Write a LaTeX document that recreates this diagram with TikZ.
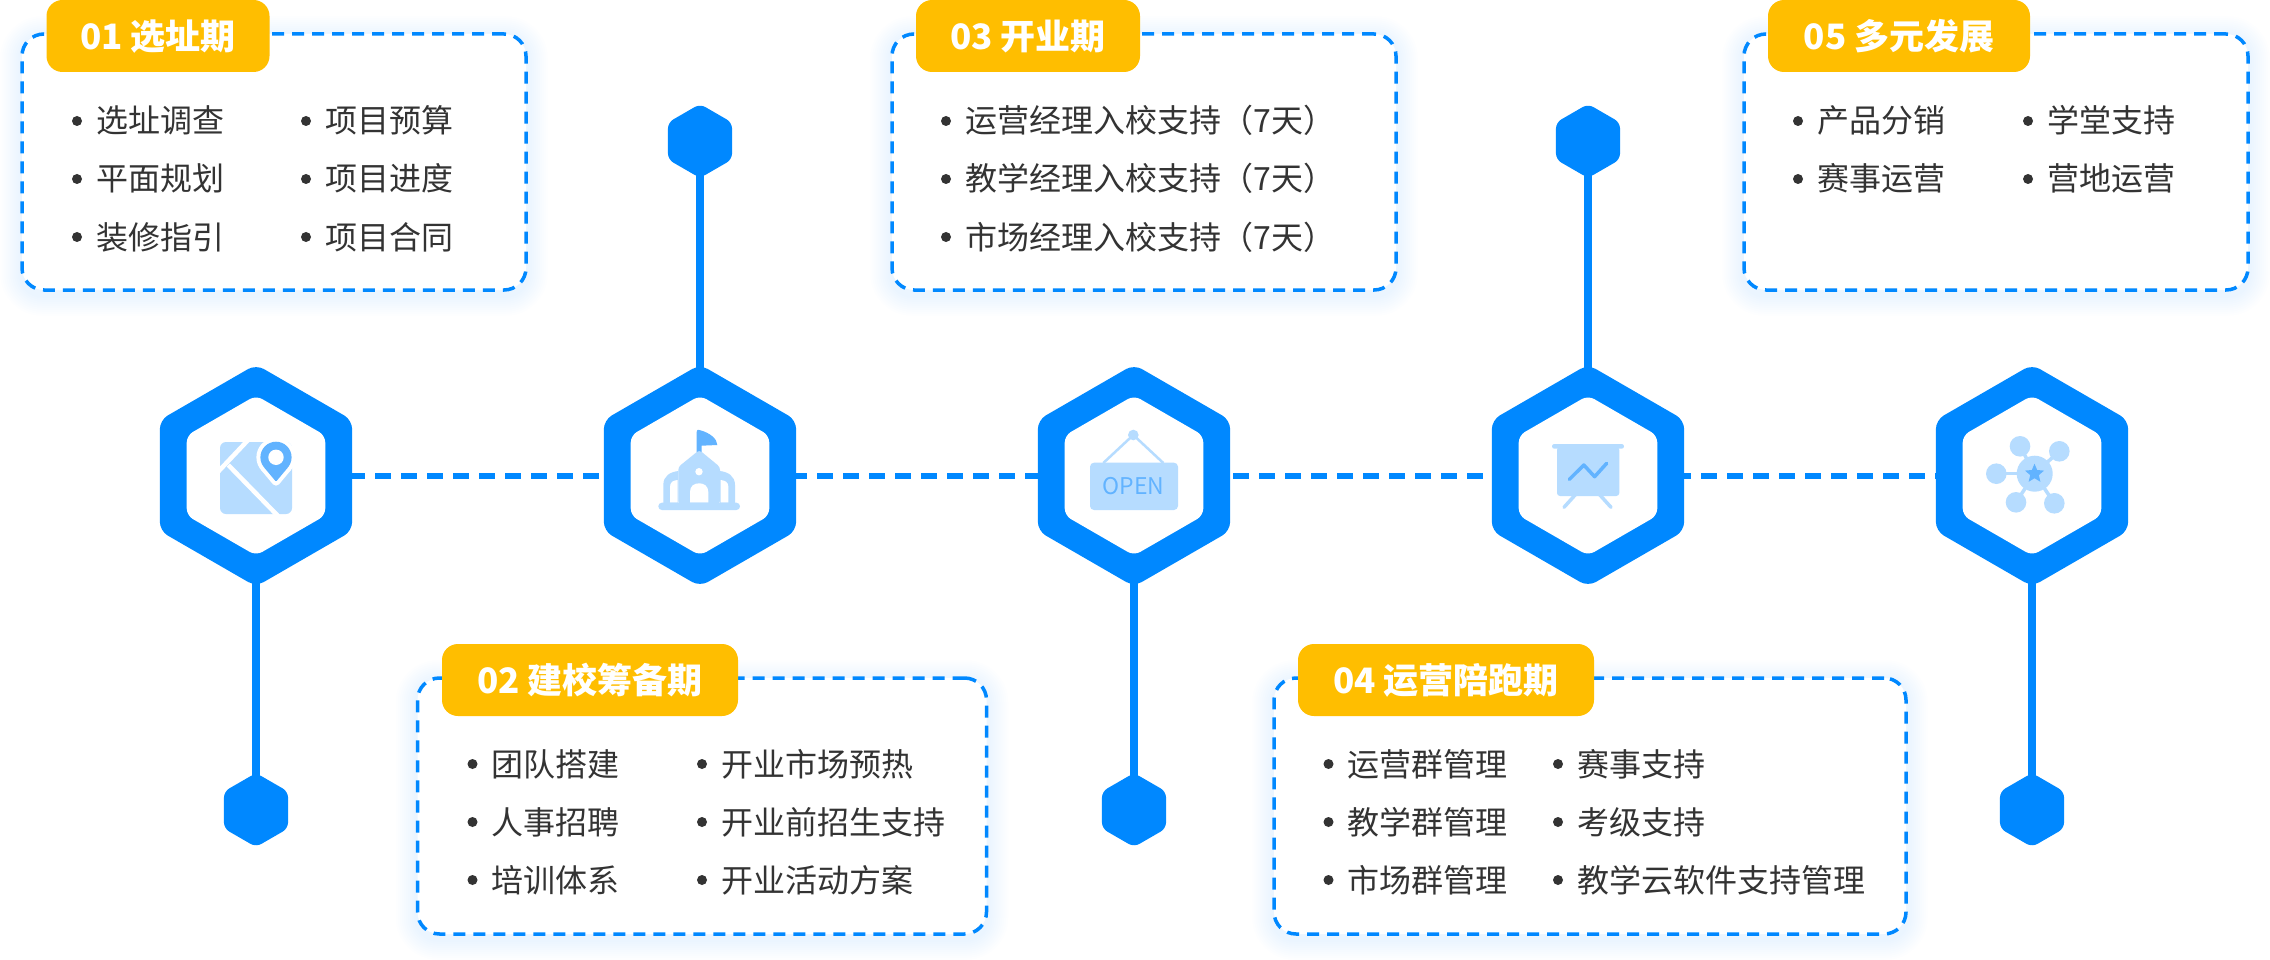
\documentclass[tikz,border=0pt]{standalone}
\usepackage{fontspec}
\setmainfont{Noto Sans CJK SC}
\usetikzlibrary{positioning,shapes.geometric}
\pgfdeclarelayer{background}
\pgfsetlayers{background,main}

\definecolor{lineblue}{HTML}{0088FF}
\definecolor{tagyellow}{HTML}{FFBE00}
\definecolor{textgray}{HTML}{333333}
\definecolor{iconlight}{HTML}{B6DCFF}
\definecolor{iconmid}{HTML}{62B3FF}

\tikzset{
  hexouter/.style={regular polygon,regular polygon sides=6,regular polygon rotate=30,fill=lineblue,inner sep=0pt,outer sep=0pt,minimum size=222pt,rounded corners=9pt},
  hexinner/.style={regular polygon,regular polygon sides=6,regular polygon rotate=30,fill=white,inner sep=0pt,outer sep=0pt,minimum size=160pt,rounded corners=7pt},
  hextip/.style={regular polygon,regular polygon sides=6,regular polygon rotate=30,fill=lineblue,inner sep=0pt,outer sep=0pt,minimum size=74pt,rounded corners=6pt},
  stem/.style={draw=lineblue,line width=8pt},
  dashlink/.style={draw=lineblue,line width=6pt,dash pattern=on 15.6pt off 10.4pt,dash phase=3pt},
  dashbox/.style={rectangle,draw=lineblue,fill=white,line width=3.5pt,dash pattern=on 12pt off 8pt,rounded corners=22pt,inner sep=0pt,minimum height=256pt},
  tagbox/.style={rectangle,fill=tagyellow,text=white,font=\fontsize{35}{35}\selectfont\bfseries,text height=30.8pt,text depth=4.2pt,rounded corners=16pt,inner sep=0pt,minimum height=72pt},
  dot/.style={circle,fill=textgray,inner sep=0pt,minimum size=10pt},
  itemtext/.style={text=textgray,font=\fontsize{32}{32}\selectfont,text height=28pt,text depth=4pt,inner sep=0pt},
  glowfill/.style={fill=lineblue,fill opacity=.008},
}

\newcommand{\boxglow}[1]{%
  \foreach \g in {2,4,...,20}{%
    \pgfmathsetmacro{\rr}{22+\g}
    \fill[glowfill,rounded corners=\rr pt] ([shift={(-\g,-\g+4)}]#1.north west) rectangle ([shift={(\g,\g+4)}]#1.south east);
  }%
}

\begin{document}
\begin{tikzpicture}[x=1pt,y=-1pt]
  % large hexagons
  \node[hexouter] (hexa) at (256,475.5) {};
  \node[hexinner] (hexain) at (hexa.center) {};
  \node[hexouter] (hexb) at (700,475.5) {};
  \node[hexinner] (hexbin) at (hexb.center) {};
  \node[hexouter] (hexc) at (1134,475.5) {};
  \node[hexinner] (hexcin) at (hexc.center) {};
  \node[hexouter] (hexd) at (1588,475.5) {};
  \node[hexinner] (hexdin) at (hexd.center) {};
  \node[hexouter] (hexe) at (2032,475.5) {};
  \node[hexinner] (hexein) at (hexe.center) {};

  % small hexagons
  \node[hextip] (tipa) at (256,810) {};
  \node[hextip] (tipb) at (700,141) {};
  \node[hextip] (tipc) at (1134,810) {};
  \node[hextip] (tipd) at (1588,141) {};
  \node[hextip] (tipe) at (2032,810) {};

  % text boxes
  \node[dashbox,minimum width=504pt] (boxa) at (274,162) {};
  \node[dashbox,minimum width=569pt] (boxb) at (702,806) {};
  \node[dashbox,minimum width=504pt] (boxc) at (1144,162) {};
  \node[dashbox,minimum width=632pt] (boxd) at (1590,806) {};
  \node[dashbox,minimum width=504pt] (boxe) at (1996,162) {};

  % connectors and glow, behind everything
  \begin{pgfonlayer}{background}
    \path[use as bounding box,fill=white] (0,0) rectangle (2270,960);
    \boxglow{boxa}
    \boxglow{boxb}
    \boxglow{boxc}
    \boxglow{boxd}
    \boxglow{boxe}
    \draw[dashlink] (hexa.east) -- (hexe.west);
    \draw[stem] (hexa.center) -- (tipa.center);
    \draw[stem] (hexb.center) -- (tipb.center);
    \draw[stem] (hexc.center) -- (tipc.center);
    \draw[stem] (hexd.center) -- (tipd.center);
    \draw[stem] (hexe.center) -- (tipe.center);
  \end{pgfonlayer}

  % tags
  \node[tagbox,minimum width=223pt] (taga) at (158,36) {01 选址期};
  \node[tagbox,minimum width=296pt] (tagb) at (590,680) {02 建校筹备期};
  \node[tagbox,minimum width=224pt] (tagc) at (1028,36) {03 开业期};
  \node[tagbox,minimum width=296pt] (tagd) at (1446,680) {04 运营陪跑期};
  \node[tagbox,minimum width=262pt] (tage) at (1899,36) {05 多元发展};

  % items box a
  \node[dot] (da1) at (77,121) {}; \node[itemtext,right=14pt of da1] (ta1) {选址调查};
  \node[dot] (da2) at (77,179) {}; \node[itemtext,right=14pt of da2] (ta2) {平面规划};
  \node[dot] (da3) at (77,237) {}; \node[itemtext,right=14pt of da3] (ta3) {装修指引};
  \node[dot] (da4) at (306,121) {}; \node[itemtext,right=14pt of da4] (ta4) {项目预算};
  \node[dot] (da5) at (306,179) {}; \node[itemtext,right=14pt of da5] (ta5) {项目进度};
  \node[dot] (da6) at (306,237) {}; \node[itemtext,right=14pt of da6] (ta6) {项目合同};

  % items box b
  \node[dot] (db1) at (472.5,764) {}; \node[itemtext,right=14pt of db1] (tb1) {团队搭建};
  \node[dot] (db2) at (472.5,822) {}; \node[itemtext,right=14pt of db2] (tb2) {人事招聘};
  \node[dot] (db3) at (472.5,880) {}; \node[itemtext,right=14pt of db3] (tb3) {培训体系};
  \node[dot] (db4) at (702,764) {}; \node[itemtext,right=14pt of db4] (tb4) {开业市场预热};
  \node[dot] (db5) at (702,822) {}; \node[itemtext,right=14pt of db5] (tb5) {开业前招生支持};
  \node[dot] (db6) at (702,880) {}; \node[itemtext,right=14pt of db6] (tb6) {开业活动方案};

  % items box c
  \node[dot] (dc1) at (946,121) {}; \node[itemtext,right=14pt of dc1] (tc1) {运营经理入校支持（7天）};
  \node[dot] (dc2) at (946,179) {}; \node[itemtext,right=14pt of dc2] (tc2) {教学经理入校支持（7天）};
  \node[dot] (dc3) at (946,237) {}; \node[itemtext,right=14pt of dc3] (tc3) {市场经理入校支持（7天）};

  % items box d
  \node[dot] (dd1) at (1328.5,764) {}; \node[itemtext,right=14pt of dd1] (td1) {运营群管理};
  \node[dot] (dd2) at (1328.5,822) {}; \node[itemtext,right=14pt of dd2] (td2) {教学群管理};
  \node[dot] (dd3) at (1328.5,880) {}; \node[itemtext,right=14pt of dd3] (td3) {市场群管理};
  \node[dot] (dd4) at (1558,764) {}; \node[itemtext,right=14pt of dd4] (td4) {赛事支持};
  \node[dot] (dd5) at (1558,822) {}; \node[itemtext,right=14pt of dd5] (td5) {考级支持};
  \node[dot] (dd6) at (1558,880) {}; \node[itemtext,right=14pt of dd6] (td6) {教学云软件支持管理};

  % items box e
  \node[dot] (de1) at (1798,121) {}; \node[itemtext,right=14pt of de1] (te1) {产品分销};
  \node[dot] (de2) at (1798,179) {}; \node[itemtext,right=14pt of de2] (te2) {赛事运营};
  \node[dot] (de3) at (2028,121) {}; \node[itemtext,right=14pt of de3] (te3) {学堂支持};
  \node[dot] (de4) at (2028,179) {}; \node[itemtext,right=14pt of de4] (te4) {营地运营};

  % map icon
  \fill[iconlight,rounded corners=6pt] (220,442) rectangle (292,514);
  \draw[white,line width=4.5pt] (216,474) -- (250,438);
  \draw[white,line width=4.5pt] (228.3,465) -- (280,518);
  \draw[white,line width=8pt,line join=round] (264,467.3) -- (276,481.7) -- (288,467.3);
  \draw[white,line width=8pt] (276,457.3) circle (15.6);
  \fill[iconmid,rounded corners=1pt] (264,467.3) -- (276,481.7) -- (288,467.3) -- cycle;
  \fill[iconmid] (276,457.3) circle (15.6);
  \fill[white] (276,457.3) circle (7.7);

  % school icon
  \fill[iconmid] (696.7,452) -- (696.7,432) .. controls (696.7,429) and (699,429.5) .. (701,430.5) .. controls (710,433) and (717.3,439) .. (717.3,445) -- (701.7,445.7) -- (701.7,452) -- cycle;
  \fill[iconlight,rounded corners=3pt] (699.3,450) -- (720,467) -- (720,504) -- (678.3,504) -- (678.3,467) -- cycle;
  \fill[iconlight] (663.3,504) -- (663.3,485) .. controls (663.3,476) and (670,472) .. (678.3,471) -- (678.3,504) -- cycle;
  \fill[iconlight] (735,504) -- (735,485) .. controls (735,476) and (728,472) .. (720,471) -- (720,504) -- cycle;
  \fill[white] (670,502.7) -- (670,487) .. controls (670,482) and (673,480.5) .. (677.7,480) -- (677.7,502.7) -- cycle;
  \fill[white] (728.4,502.7) -- (728.4,487) .. controls (728.4,482) and (725,480.5) .. (720.7,480) -- (720.7,502.7) -- cycle;
  \fill[white] (690,502.7) -- (690,492) .. controls (690,486) and (694,483.3) .. (699.2,483.3) .. controls (704,483.3) and (708.3,486) .. (708.3,492) -- (708.3,502.7) -- cycle;
  \fill[white] (699,471.7) circle (3.7);
  \fill[iconlight,rounded corners=3.6pt] (658.3,502.7) rectangle (740,510);

  % open sign icon
  \draw[iconlight,line width=2.5pt] (1103.3,463) -- (1133.3,435) -- (1163.3,463);
  \fill[iconlight] (1133.3,435) circle (5.3);
  \fill[iconlight,rounded corners=4pt] (1090,462.7) rectangle (1178,510);
  \node[text=iconmid,font=\fontsize{23}{23}\selectfont,inner sep=0pt] (opensign) at (1133.5,486) {OPEN};

  % chart icon
  \draw[iconlight,line width=3.5pt,line cap=round] (1576,494) -- (1564,507.3);
  \draw[iconlight,line width=3.5pt,line cap=round] (1599,494) -- (1611,507.3);
  \fill[iconlight,rounded corners=2.3pt] (1552,444) rectangle (1624,448.7);
  \fill[iconlight,rounded corners=3pt] (1557,447) rectangle (1619.3,496);
  \draw[iconmid,line width=3.5pt,line cap=round,line join=round] (1569.4,479.3) -- (1583.8,465) -- (1594.6,476.7) -- (1606.7,463.3);

  % network icon
  \draw[iconlight,line width=3.5pt] (2034.7,473.7) -- (2020,446.3);
  \draw[iconlight,line width=3.5pt] (2034.7,473.7) -- (2059.3,451.3);
  \draw[iconlight,line width=3.5pt] (2034.7,473.7) -- (1996.3,473.7);
  \draw[iconlight,line width=3.5pt] (2034.7,473.7) -- (2016,502.3);
  \draw[iconlight,line width=3.5pt] (2034.7,473.7) -- (2054.3,503.3);
  \fill[iconlight] (2034.7,473.7) circle (18);
  \fill[iconlight] (2020,446.3) circle (10.3);
  \fill[iconlight] (2059.3,451.3) circle (10.3);
  \fill[iconlight] (1996.3,473.7) circle (10.3);
  \fill[iconlight] (2016,502.3) circle (10.3);
  \fill[iconlight] (2054.3,503.3) circle (10.3);
  \node[star,star points=5,star point ratio=2.2,fill=iconmid,inner sep=0pt,minimum size=20pt] (netstar) at (2034.5,473.7) {};
\end{tikzpicture}
\end{document}
